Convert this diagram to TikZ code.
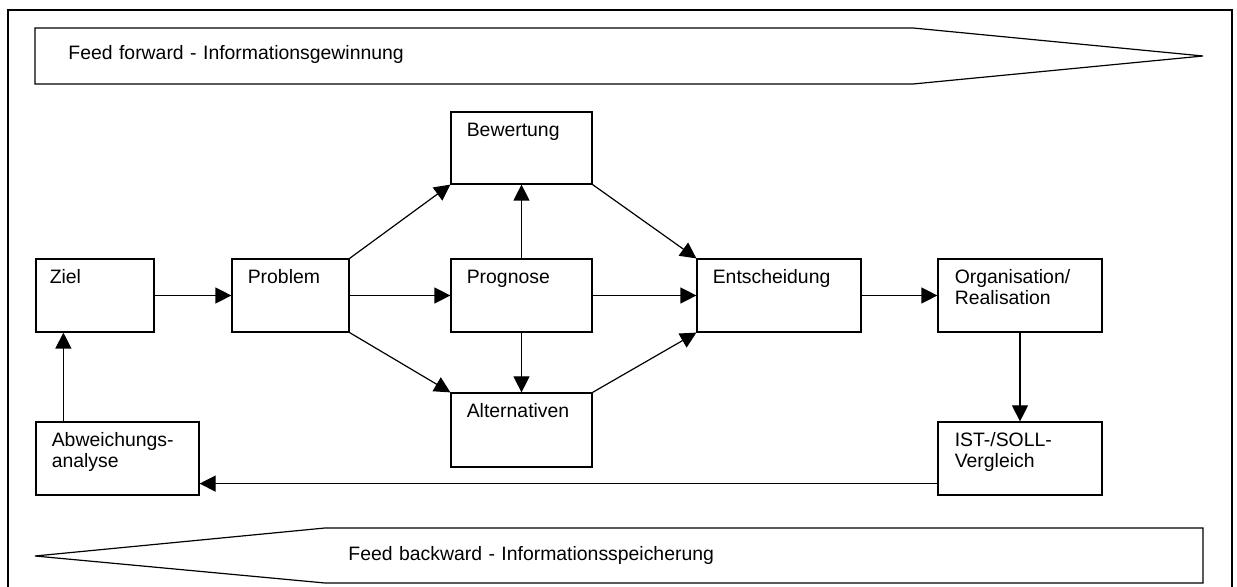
\documentclass[tikz,border=0pt]{standalone}
\usepackage{fontspec}
\setmainfont{Liberation Sans}
\usetikzlibrary{arrows.meta,calc,fit}
\begin{document}
\begin{tikzpicture}[x=0.5pt,y=-0.5pt,
  box/.style={draw, line width=0.6pt, inner sep=0pt},
  txt/.style={anchor=base west, inner sep=0pt, text width=100pt, align=left,
    font={\fontsize{9.7pt}{10.5pt}\selectfont}},
  arr/.style={line width=0.6pt, -{Triangle[length=8pt,width=8pt]}},
  shape line/.style={line width=0.6pt, line join=miter}]
\clip (0,0) rectangle (1237,587);
\fill[white] (0,0) rectangle (1237,587);
% frame
\draw[line width=0.9pt] (8,600) -- (8,10) -- (1232,10) -- (1232,600);
% feed forward / backward shapes
\draw[shape line] (35,28) -- (913,28) -- (1203,56) -- (913,84) -- (35,84) -- cycle;
\node[txt, text width=250pt] (ff) at (68,60) {Feed forward - Informationsgewinnung};
\draw[shape line] (35,556) -- (325,528) -- (1203,528) -- (1203,583) -- (325,583) -- cycle;
\node[txt, text width=250pt] (fb) at (348,560) {Feed backward - Informationsspeicherung};
% boxes
\node[box, fit={(36,259)(154,332)}] (ziel) {};
\node[box, fit={(232,259)(349,332)}] (problem) {};
\node[box, fit={(451,112)(592,184)}] (bewertung) {};
\node[box, fit={(451,259)(592,332)}] (prognose) {};
\node[box, fit={(451,393)(592,467)}] (alternativen) {};
\node[box, fit={(697,259)(861,332)}] (entscheidung) {};
\node[box, fit={(938,259)(1102,332)}] (organisation) {};
\node[box, fit={(938,422)(1102,495)}] (ist) {};
\node[box, fit={(36,422)(199,495)}] (abw) {};
% texts
\node[txt] (tziel) at ($(ziel.north west)+(14,25)$) {Ziel};
\node[txt] (tproblem) at ($(problem.north west)+(16,25)$) {Problem};
\node[txt] (tbewertung) at ($(bewertung.north west)+(16,25)$) {Bewertung};
\node[txt] (tprognose) at ($(prognose.north west)+(16,25)$) {Prognose};
\node[txt] (talternativen) at ($(alternativen.north west)+(16,25)$) {Alternativen};
\node[txt] (tentscheidung) at ($(entscheidung.north west)+(16,25)$) {Entscheidung};
\node[txt] (torganisation) at ($(organisation.north west)+(17,25)$) {Organisation/\\Realisation};
\node[txt] (tist) at ($(ist.north west)+(17,25)$) {IST-/SOLL-\\Vergleich};
\node[txt] (tabw) at ($(abw.north west)+(16,25)$) {Abweichungs-\\analyse};
% connectors
\draw[arr] (ziel) -- (problem);
\draw[arr] (problem) -- (prognose);
\draw[arr] (problem.north east) -- (bewertung.south west);
\draw[arr] (problem.south east) -- (alternativen.north west);
\draw[arr] (prognose) -- (bewertung);
\draw[arr] (prognose) -- (alternativen);
\draw[arr] (bewertung.south east) -- (entscheidung.north west);
\draw[arr] (prognose) -- (entscheidung);
\draw[arr] (alternativen.north east) -- (entscheidung.south west);
\draw[arr] (entscheidung) -- (organisation);
\draw[arr] (organisation) -- (ist);
\draw[arr] ($(ist.south west)+(0,-12)$) -- ($(abw.south east)+(0,-12)$);
\draw[arr] ($(abw.north west)+(28,0)$) -- ($(ziel.south west)+(28,0)$);
\end{tikzpicture}
\end{document}
